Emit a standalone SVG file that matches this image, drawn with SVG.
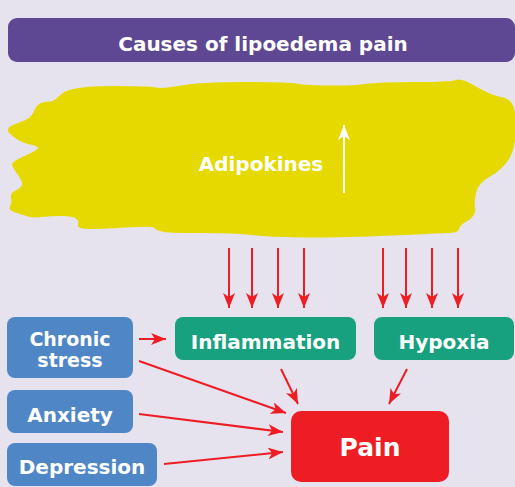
<svg xmlns="http://www.w3.org/2000/svg" width="515" height="487" viewBox="0 0 515 487">
<style>
  .t { font-family: "DejaVu Sans", "Liberation Sans", sans-serif; font-weight: bold; fill: #ffffff; text-anchor: middle; }
  .blue { fill: #4f86c6; }
  .green { fill: #17a17f; }
  .edge { stroke: #ee1d24; stroke-width: 2; fill: none; marker-end: url(#ah); }
</style>
<defs>
  <marker id="ah" viewBox="0 0 15 12" refX="15" refY="6" markerWidth="15" markerHeight="12" markerUnits="userSpaceOnUse" orient="auto">
    <path d="M0,0 L15,6 L0,12 L4,6 Z" fill="#ee1d24"/>
  </marker>
  <marker id="ahw" viewBox="0 0 15 12" refX="15" refY="6" markerWidth="15" markerHeight="12" markerUnits="userSpaceOnUse" orient="auto">
    <path d="M0,0 L15,6 L0,12 L4,6 Z" fill="#ffffff"/>
  </marker>
</defs>
<rect width="515" height="487" fill="#e6e3ef"/>
<g id="title">
  <rect x="8" y="18" width="507" height="44" rx="9" fill="#5e4893"/>
  <text class="t" x="263" y="51" font-size="20">Causes of lipoedema pain</text>
</g>
<g id="adipose">
  <path fill="#e6d900" d="M50.5,101.5 Q53,102 61.5,94 Q70,86 110,86 Q150,86 156,87.5 Q162,89 181,85.5 Q200,82 245,82 Q290,82 296,83.5 Q302,85 326,85.5 Q350,86 365,84 Q380,82 415,82 Q450,82 456,80 Q462,78 476,86.5 Q490,95 503,97.5 Q516,100 516,124 Q516,148 509,159 Q502,170 490,176.5 Q478,183 476,193 Q474,203 475,207.5 Q476,212 473,216 Q470,220 465.5,222 Q461,224 459.5,228 Q458,232 454,232.5 Q450,233 391.5,235.5 Q333,238 300,237.5 Q267,237 251,235 Q235,233 201,233 Q167,233 161.5,231.5 Q156,230 154.5,228 Q153,226 126.5,227.5 Q100,229 88.5,229 Q77,229 78,225 Q79,221 76,218.5 Q73,216 61.5,216 Q50,216 41.5,217 Q33,218 28,216.5 Q23,215 15.5,212.5 Q8,210 10,206.5 Q12,203 11,198 Q10,193 15.5,190.5 Q21,188 22,185 Q23,182 18,175 Q13,168 12,165 Q11,162 24.5,156 Q38,150 38,148 Q38,146 30,144.5 Q22,143 14.5,137.5 Q7,132 8,129 Q9,126 18,123 Q27,120 30,117 Q33,114 35,109 Q37,104 42.5,102.5 Q48,101 50.5,101.5 Z"/>
  <text class="t" x="261" y="171" font-size="20">Adipokines</text>
  <line x1="344" y1="193" x2="344" y2="125" stroke="#ffffff" stroke-width="2" marker-end="url(#ahw)"/>
</g>
<g id="chronic-stress">
  <rect class="blue" x="7" y="317" width="126" height="61" rx="8"/>
  <text class="t" x="70" y="346" font-size="19">Chronic</text>
  <text class="t" x="70" y="367" font-size="19">stress</text>
</g>
<g id="inflammation">
  <rect class="green" x="175" y="317" width="181" height="43" rx="8"/>
  <text class="t" x="265.5" y="349" font-size="20">Inflammation</text>
</g>
<g id="hypoxia">
  <rect class="green" x="374" y="317" width="140" height="43" rx="8"/>
  <text class="t" x="444" y="349" font-size="20">Hypoxia</text>
</g>
<g id="anxiety">
  <rect class="blue" x="7" y="390" width="126" height="43" rx="8"/>
  <text class="t" x="70" y="422" font-size="20">Anxiety</text>
</g>
<g id="depression">
  <rect class="blue" x="7" y="443" width="150" height="43" rx="8"/>
  <text class="t" x="82" y="474" font-size="20">Depression</text>
</g>
<g id="pain">
  <rect x="291" y="411" width="158" height="71" rx="10" fill="#ee1d24"/>
  <text class="t" x="370" y="456" font-size="25">Pain</text>
</g>
<g id="connectors">
  <line class="edge" x1="229" y1="248" x2="229" y2="308"/>
  <line class="edge" x1="252" y1="248" x2="252" y2="308"/>
  <line class="edge" x1="278" y1="248" x2="278" y2="308"/>
  <line class="edge" x1="304" y1="248" x2="304" y2="308"/>
  <line class="edge" x1="383" y1="248" x2="383" y2="308"/>
  <line class="edge" x1="406" y1="248" x2="406" y2="308"/>
  <line class="edge" x1="432" y1="248" x2="432" y2="308"/>
  <line class="edge" x1="458" y1="248" x2="458" y2="308"/>
  <line class="edge" x1="139" y1="339" x2="166" y2="339"/>
  <line class="edge" x1="139" y1="361" x2="286" y2="413"/>
  <line class="edge" x1="139" y1="414" x2="283" y2="432"/>
  <line class="edge" x1="164" y1="464" x2="283" y2="452"/>
  <line class="edge" x1="281" y1="369" x2="298" y2="404"/>
  <line class="edge" x1="407" y1="369" x2="389" y2="404"/>
</g>
</svg>
